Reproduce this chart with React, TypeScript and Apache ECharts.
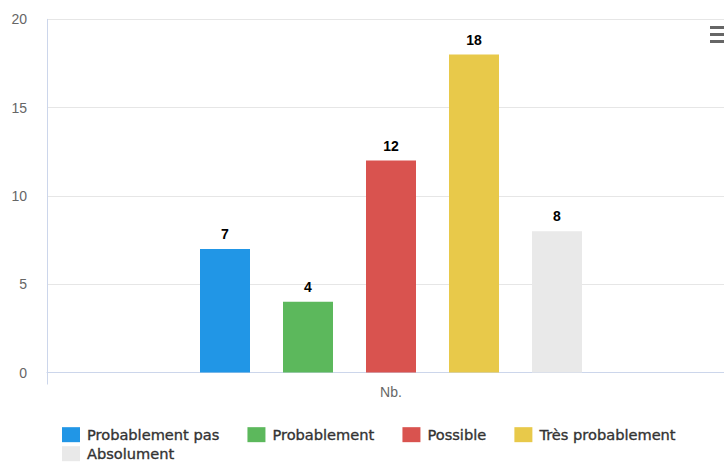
import React, { useEffect, useRef } from "react";
import * as echarts from "echarts";

const categories = ["Nb."];
const seriesNames = ["Probablement pas", "Probablement", "Possible", "Très probablement", "Absolument"];
const seriesValues = [7, 4, 12, 18, 8];
const seriesColors = ["#2196e6", "#5cb85c", "#d9534f", "#e8c94a", "#e9e9e9"];
const yTicks = { min: 0, max: 20, interval: 5 };

export default function App() {
  const ref = useRef<HTMLDivElement>(null);
  useEffect(() => {
    document.body.style.margin = "0";
    document.body.style.overflow = "hidden";
    const chart = echarts.init(ref.current!, undefined, { renderer: "svg" });
    const series = seriesNames.map((name, i) => ({
      name,
      type: "bar",
      data: [seriesValues[i]],
      barWidth: 50,
      barGap: "66%",
      itemStyle: { color: seriesColors[i] },
      label: {
        show: true,
        position: "top",
        distance: 8,
        color: "#000",
        fontWeight: "bold",
        fontSize: 14,
        fontFamily: "Liberation Sans, Arial, sans-serif",
      },
    }));
    const legendText = {
      fontFamily: "DejaVu Sans",
      fontSize: 14.6,
      color: "#333",
      textBorderColor: "#333",
      textBorderWidth: 0.35,
      padding: [0, 0, 0, 2],
    };
    chart.setOption({
      animation: false,
      grid: { left: 47, right: 0, top: 19.3, bottom: 89.5 },
      xAxis: {
        type: "category",
        data: categories,
        axisLine: { lineStyle: { color: "#ccd6eb" } },
        axisTick: { show: true, length: 12, lineStyle: { color: "#ccd6eb" } },
        axisLabel: { color: "#666", fontSize: 14, margin: 12, fontFamily: "Liberation Sans, Arial, sans-serif" },
      },
      yAxis: {
        type: "value",
        min: yTicks.min,
        max: yTicks.max,
        interval: yTicks.interval,
        axisLine: { show: true, lineStyle: { color: "#ccd6eb" } },
        axisTick: { show: false },
        splitLine: { lineStyle: { color: "#e6e6e6" } },
        axisLabel: { color: "#666", fontSize: 14, margin: 20, fontFamily: "Liberation Sans, Arial, sans-serif" },
      },
      legend: [
        {
          data: seriesNames.slice(0, 4),
          left: 62,
          top: 427,
          padding: 0,
          itemWidth: 18,
          itemHeight: 15,
          itemGap: 28,
          icon: "rect",
          textStyle: legendText,
        },
        {
          data: seriesNames.slice(4),
          left: 62,
          top: 446,
          padding: 0,
          itemWidth: 18,
          itemHeight: 15,
          icon: "rect",
          textStyle: legendText,
        },
      ],
      graphic: [
        { type: "rect", shape: { x: 710, y: 26, width: 16, height: 3 }, style: { fill: "#666" } },
        { type: "rect", shape: { x: 710, y: 33, width: 16, height: 3 }, style: { fill: "#666" } },
        { type: "rect", shape: { x: 710, y: 40, width: 16, height: 3 }, style: { fill: "#666" } },
      ],
      series,
    });
    return () => chart.dispose();
  }, []);
  return <div ref={ref} style={{ width: 735, height: 462, position: "absolute", left: 0, top: 0 }} />;
}
